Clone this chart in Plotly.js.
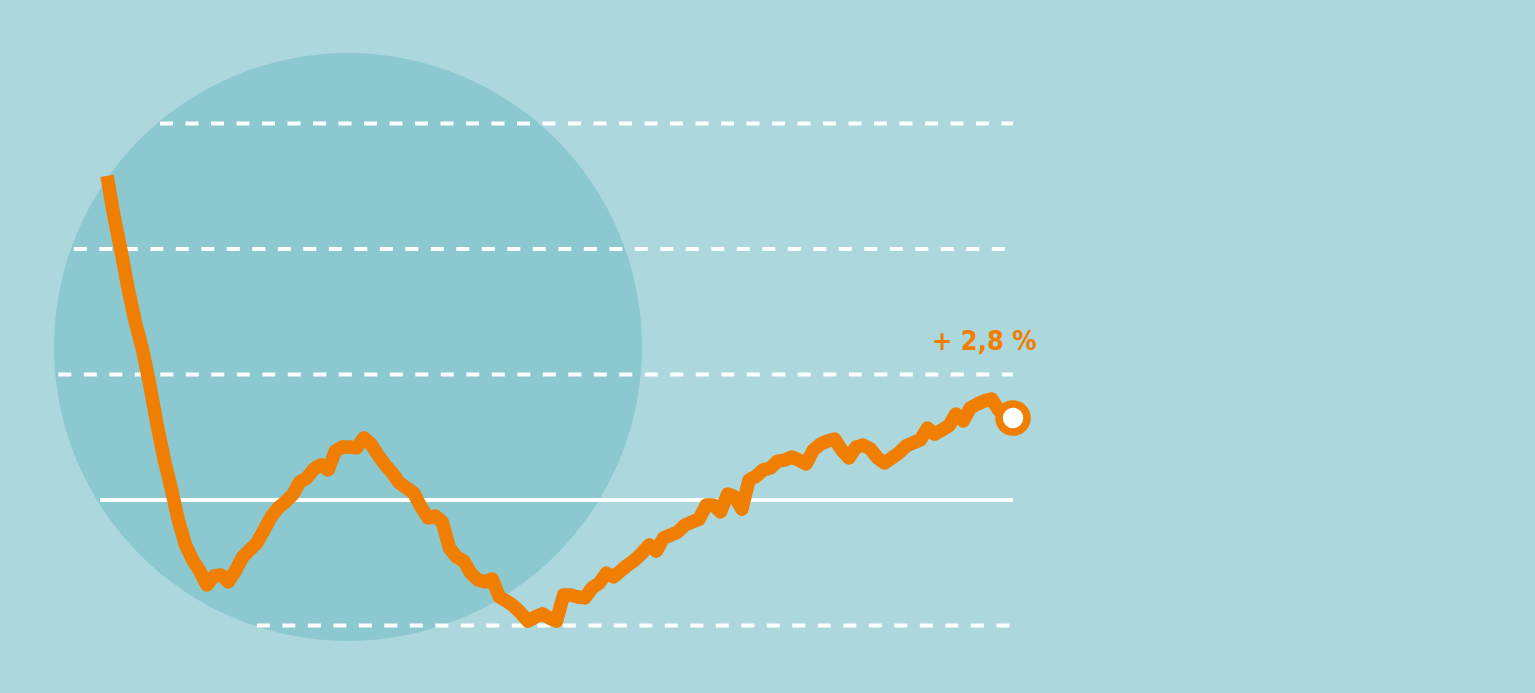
<!DOCTYPE html>
<html><head><meta charset="utf-8">
<script src="https://cdn.plot.ly/plotly-3.0.1.min.js"></script>
<style>
html,body{margin:0;padding:0;background:#acd7dd;overflow:hidden}
#chart{width:1535px;height:693px}
.js-line{stroke-linejoin:round}
.annotation-text{font-stretch:condensed}
</style></head><body><div id="chart"></div>
<script>
// monthly change values (grid step = 4 units)
const values = [
 10.33, 9.02, 7.90, 6.69, 5.64, 4.78, 3.67, 2.42, 1.31, 0.38,
 -0.64, -1.43, -1.91, -2.26, -2.71, -2.42, -2.39, -2.61, -2.26, -1.82,
 -1.59, -1.37, -0.96, -0.54, -0.25, -0.06, 0.16, 0.57, 0.70, 0.99,
 1.12, 0.96, 1.56, 1.69, 1.69, 1.66, 1.98, 1.78, 1.43, 1.12,
 0.86, 0.54, 0.38, 0.22, -0.22, -0.57, -0.51, -0.70, -1.53, -1.82,
 -1.94, -2.33, -2.55, -2.61, -2.52, -3.09, -3.22, -3.38, -3.60, -3.86,
 -3.73, -3.63, -3.76, -3.86, -3.03, -3.03, -3.09, -3.12, -2.80, -2.65,
 -2.33, -2.45, -2.26, -2.07, -1.91, -1.69, -1.43, -1.63, -1.21, -1.12,
 -1.02, -0.80, -0.70, -0.61, -0.16, -0.16, -0.38, 0.19, 0.10, -0.29,
 0.64, 0.76, 0.96, 1.02, 1.24, 1.27, 1.37, 1.27, 1.15, 1.59,
 1.78, 1.88, 1.94, 1.59, 1.34, 1.69, 1.75, 1.63, 1.34, 1.18,
 1.34, 1.50, 1.72, 1.82, 1.91, 2.29, 2.10, 2.23, 2.36, 2.74,
 2.52, 2.93, 3.06, 3.16, 3.22, 2.87, 2.68, 2.61
];
const months = values.map((v, i) => i);
const dashedGrid = [-4, 4, 8, 12];
const zeroLine = [0];
const labelText = "+ 2,8 %";

const W = 1535, H = 693;
const xRange = [-15.0, 200.17];
const yRange = [-6.151, 15.936];
const ORANGE = "#f07e00";
const CIRCLE = {cx: 348, cy: 347, r: 294};

const pxToX = px => xRange[0] + px / W * (xRange[1] - xRange[0]);
const yToPy = v => (yRange[1] - v) / (yRange[1] - yRange[0]) * H;
const last = months.length - 1;

function gridShape(v, dash) {
  const py = yToPy(v);
  const d = Math.abs(py - CIRCLE.cy);
  const dx = d < CIRCLE.r ? Math.sqrt(CIRCLE.r * CIRCLE.r - d * d) : 0;
  return {
    type: "line", layer: "below", xref: "x", yref: "y",
    x0: pxToX(CIRCLE.cx - dx + 3), x1: months[last], y0: v, y1: v,
    line: {color: "#ffffff", width: 4, dash: dash}
  };
}

const shapes = [{
  type: "circle", layer: "below", xref: "paper", yref: "paper",
  x0: (CIRCLE.cx - CIRCLE.r) / W, x1: (CIRCLE.cx + CIRCLE.r) / W,
  y0: 1 - (CIRCLE.cy + CIRCLE.r) / H, y1: 1 - (CIRCLE.cy - CIRCLE.r) / H,
  fillcolor: "#8bc8d0", line: {width: 0}
}];
dashedGrid.forEach(v => shapes.push(gridShape(v, "13px,12.5px")));
zeroLine.forEach(v => shapes.push(gridShape(v, "solid")));

const traces = [
  {x: months, y: values, mode: "lines", type: "scatter",
   line: {color: ORANGE, width: 13.5, simplify: false}, hoverinfo: "skip"},
  {x: [months[last]], y: [values[last]], mode: "markers", type: "scatter",
   marker: {size: 28, color: "#ffffff", line: {color: ORANGE, width: 7.5}},
   hoverinfo: "skip", cliponaxis: false}
];

const layout = {
  width: W, height: H,
  margin: {l: 0, r: 0, t: 0, b: 0, pad: 0},
  paper_bgcolor: "#acd7dd", plot_bgcolor: "rgba(0,0,0,0)",
  showlegend: false,
  xaxis: {range: xRange, visible: false, fixedrange: true},
  yaxis: {range: yRange, visible: false, fixedrange: true},
  shapes: shapes,
  annotations: [{
    xref: "paper", yref: "paper", x: 984 / W, y: 1 - 340 / H,
    xanchor: "center", yanchor: "middle", showarrow: false,
    text: labelText,
    font: {family: "DejaVu Sans Condensed, DejaVu Sans", size: 27, weight: "bold", color: ORANGE}
  }]
};

Plotly.newPlot("chart", traces, layout, {staticPlot: true, displayModeBar: false});
</script></body></html>
